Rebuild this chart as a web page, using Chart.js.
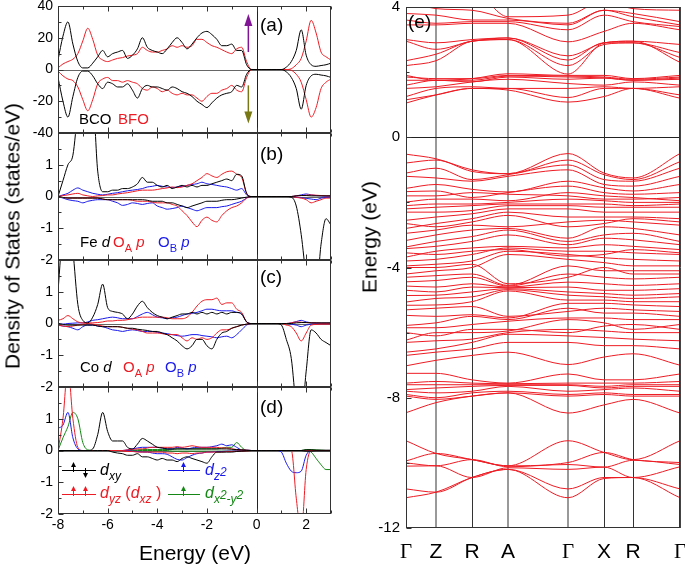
<!DOCTYPE html>
<html>
<head>
<meta charset="utf-8">
<script src="https://cdn.jsdelivr.net/npm/chart.js@4.4.1/dist/chart.umd.min.js"></script>
<style>
  body { margin: 0; background: #fff; }
  #wrap { position: relative; width: 685px; height: 565px; overflow: hidden; background: #fff;
          font-family: "Liberation Sans", Arial, sans-serif; }
  #wrap canvas { position: absolute; left: 0; top: 0; }
  .ttl { position: absolute; color: #000; white-space: nowrap; font-size: 21px; line-height: 1; }
  .rot { transform: translate(-50%, -50%) rotate(-90deg); }
</style>
</head>
<body>
<div id="wrap">
  <canvas id="dosA" width="685" height="565"></canvas>
  <canvas id="dosB" width="685" height="565"></canvas>
  <canvas id="dosC" width="685" height="565"></canvas>
  <canvas id="dosD" width="685" height="565"></canvas>
  <canvas id="bands" width="685" height="565"></canvas>
  <div class="ttl rot" style="left:12px;top:236px">Density of States (states/eV)</div>
  <div class="ttl" style="left:195px;top:552px;transform:translate(-50%,-50%)">Energy (eV)</div>
  <div class="ttl rot" style="left:369px;top:237px">Energy (eV)</div>
</div>
<script>
// ---- DOS data (energy grid in eV) ----
const energy = [-8.0, -7.8, -7.6, -7.4, -7.2, -7.0, -6.8, -6.6, -6.4, -6.2,
  -6.0, -5.8, -5.6, -5.4, -5.2, -5.0, -4.8, -4.6, -4.4, -4.2,
  -4.0, -3.8, -3.6, -3.4, -3.2, -3.0, -2.8, -2.6, -2.4, -2.2,
  -2.0, -1.8, -1.6, -1.4, -1.2, -1.0, -0.8, -0.6, -0.4, -0.2,
  0.0, 0.2, 0.4, 0.6, 0.8, 1.0, 1.2, 1.4, 1.6, 1.8,
  2.0, 2.2, 2.4, 2.6, 2.8, 3.0];

// (a) total DOS
const bcoUp = [6, 21, 30, 16, 5, 1, 1, 4, 8, 12,
  8, 10, 11, 12, 7, 9, 13, 20, 14, 12,
  11, 10, 13, 17, 20, 17, 13, 16, 20, 23,
  24, 22, 19, 15, 15, 16, 12, 12, 3, 0,
  0, 0, 0, 0, 0, 0, 1.5, 5, 12, 25,
  9, 3, 2, 2.5, 3, 4];
const bcoDown = [-5, -20, -30, -17, -5, -1, -1, -4, -9, -12,
  -8, -9, -11, -11, -9, -13, -18, -12, -10, -11,
  -11, -12, -13, -11, -12, -14, -15, -17, -20, -22,
  -24, -21, -18, -16, -15, -14, -10, -11, -3, 0,
  0, 0, 0, 0, 0, 0, -1.5, -5, -12, -25,
  -10, -4, -3, -3.5, -4, -5];
const bfoUp = [1, 3.5, 5, 6.5, 10, 18, 26, 19, 9, 6,
  5, 6, 7, 7.5, 8.5, 9, 10, 14, 12, 11,
  11, 12, 13, 15, 14, 15, 14, 15, 19, 19,
  17, 15, 14, 12.5, 11, 10, 13, 14, 5, 0,
  0, 0, 0, 0, 0, 0, 0, 0.5, 3, 7,
  18, 31, 23, 11, 8, 6];
const bfoDown = [-1, -4, -6, -7, -11, -19, -26, -19, -9, -6,
  -5, -7, -7, -8, -7, -8, -9, -12, -13, -11,
  -12, -14, -13, -15, -16, -15, -16, -16, -18, -20,
  -17, -15, -15, -13, -12, -10, -13, -14, -5, 0,
  0, 0, 0, 0, 0, 0, 0, -0.5, -3, -8,
  -19, -30, -24, -12, -8, -6];

// (b) Fe d, O_A p, O_B p
const feUp = [0, 0.5, 1.0, 1.3, 2.6, 3, 3, 3, 0.8, 0.15,
  0.15, 0.2, 0.2, 0.25, 0.25, 0.3, 0.4, 0.6, 0.45, 0.45,
  0.35, 0.3, 0.35, 0.25, 0.3, 0.35, 0.3, 0.35, 0.3, 0.35,
  0.35, 0.4, 0.45, 0.5, 0.55, 0.5, 0.7, 0.65, 0.1, 0,
  0, 0, 0, 0, 0, 0, 0, 0, 0.02, 0.03,
  0.03, 0.02, 0.02, 0.02, 0.02, 0.02];
const feDown = [0, -0.03, -0.05, -0.05, -0.05, -0.05, -0.05, -0.05, -0.05, -0.08,
  -0.1, -0.1, -0.1, -0.1, -0.1, -0.1, -0.1, -0.1, -0.12, -0.15,
  -0.15, -0.15, -0.2, -0.2, -0.25, -0.3, -0.35, -0.3, -0.25, -0.2,
  -0.15, -0.15, -0.15, -0.12, -0.1, -0.1, -0.08, -0.05, -0.02, 0,
  0, 0, 0, 0, 0, 0, 0, -0.02, -0.3, -1.2,
  -2.5, -3, -3, -1.5, -0.7, -0.9];
const oaUpB = [0, 0.03, 0.05, 0.08, 0.1, 0.05, 0.02, 0, 0.02, 0.03,
  0.05, 0.05, 0.08, 0.1, 0.12, 0.15, 0.18, 0.2, 0.2, 0.2,
  0.22, 0.25, 0.27, 0.3, 0.28, 0.3, 0.35, 0.4, 0.5, 0.6,
  0.72, 0.65, 0.6, 0.7, 0.78, 0.8, 0.7, 0.6, 0.1, 0,
  0, 0, 0, 0, 0, 0, 0, 0, 0.02, 0.03,
  0.04, 0.05, 0.04, 0.03, 0.02, 0.02];
const oaDownB = [0, -0.03, -0.05, -0.05, -0.05, -0.05, -0.05, -0.05, -0.05, -0.08,
  -0.1, -0.1, -0.1, -0.1, -0.1, -0.12, -0.15, -0.15, -0.15, -0.18,
  -0.2, -0.2, -0.2, -0.25, -0.3, -0.45, -0.6, -0.8, -0.95, -0.75,
  -0.65, -0.75, -0.8, -0.6, -0.45, -0.35, -0.3, -0.2, -0.05, 0,
  0, 0, 0, 0, 0, 0, 0, 0, -0.03, -0.05,
  -0.1, -0.2, -0.15, -0.1, -0.05, -0.05];
const obUpB = [0, 0.05, 0.1, 0.2, 0.27, 0.2, 0.15, 0.1, 0.07, 0.05,
  0.07, 0.1, 0.12, 0.15, 0.18, 0.2, 0.22, 0.25, 0.3, 0.32,
  0.35, 0.32, 0.3, 0.28, 0.3, 0.32, 0.35, 0.38, 0.4, 0.45,
  0.4, 0.38, 0.35, 0.32, 0.3, 0.25, 0.2, 0.25, 0.05, 0,
  0, 0, 0, 0, 0, 0, 0, 0, 0.02, 0.05,
  0.08, 0.05, 0.03, 0.02, 0.01, 0.01];
const obDownB = [0, -0.05, -0.1, -0.13, -0.15, -0.2, -0.15, -0.12, -0.1, -0.1,
  -0.1, -0.15, -0.2, -0.28, -0.25, -0.2, -0.22, -0.25, -0.22, -0.2,
  -0.3, -0.35, -0.4, -0.38, -0.35, -0.3, -0.35, -0.4, -0.45, -0.4,
  -0.35, -0.35, -0.35, -0.32, -0.3, -0.25, -0.2, -0.15, -0.05, 0,
  0, 0, 0, 0, 0, 0, 0, 0, -0.02, -0.04,
  -0.06, -0.08, -0.1, -0.05, -0.03, -0.02];

// (c) Co d, O_A p, O_B p
const coUp = [1.0, 3, 3.5, 2.3, 0.6, 0.1, 0.02, 0.2, 0.6, 1.24,
  0.5, 0.38, 0.35, 0.3, 0.15, 0.3, 0.55, 0.7, 0.5, 0.35,
  0.25, 0.2, 0.15, 0.2, 0.25, 0.3, 0.3, 0.35, 0.3, 0.35,
  0.3, 0.35, 0.3, 0.35, 0.3, 0.35, 0.35, 0.3, 0.05, 0,
  0, 0, 0, 0, 0, 0, 0, 0, 0.02, 0.03,
  0.03, 0.02, 0.02, 0.02, 0.02, 0.02];
const coDown = [0, -0.03, -0.05, -0.05, -0.05, -0.05, -0.05, -0.05, -0.08, -0.1,
  -0.1, -0.1, -0.1, -0.12, -0.15, -0.15, -0.18, -0.2, -0.22, -0.25,
  -0.25, -0.3, -0.35, -0.45, -0.55, -0.7, -0.8, -0.7, -0.5, -0.5,
  -0.7, -0.8, -0.5, -0.3, -0.25, -0.15, -0.1, -0.05, -0.02, 0,
  0, 0, 0, 0, 0, -0.05, -0.5, -1.1, -2.6, -3,
  -1.5, -0.2, -0.3, -0.5, -0.6, -0.7];
const oaUpC = [0.1, 0.15, 0.25, 0.15, 0.05, 0.02, 0.02, 0.02, 0.03, 0.05,
  0.08, 0.08, 0.1, 0.1, 0.12, 0.15, 0.18, 0.2, 0.2, 0.2,
  0.2, 0.2, 0.18, 0.15, 0.15, 0.15, 0.2, 0.35, 0.55, 0.7,
  0.75, 0.75, 0.8, 0.6, 0.65, 0.65, 0.45, 0.35, 0.05, 0,
  0, 0, 0, 0, 0, 0, 0, 0.02, 0.05, 0.04,
  0.03, 0.02, 0.02, 0.01, 0.01, 0.01];
const oaDownC = [-0.05, -0.08, -0.1, -0.08, -0.05, -0.02, 0, -0.02, -0.05, -0.08,
  -0.1, -0.1, -0.1, -0.12, -0.15, -0.18, -0.2, -0.25, -0.3, -0.3,
  -0.3, -0.32, -0.35, -0.35, -0.35, -0.45, -0.55, -0.45, -0.5, -0.45,
  -0.5, -0.45, -0.3, -0.2, -0.2, -0.15, -0.1, -0.05, -0.02, 0,
  0, 0, 0, 0, 0, 0, -0.05, -0.1, -0.3, -0.55,
  -0.3, -0.05, -0.03, -0.02, -0.02, -0.02];
const obUpC = [0, -0.02, 0, 0.01, 0.02, 0.02, 0.05, 0.1, 0.12, 0.15,
  0.18, 0.2, 0.18, 0.15, 0.15, 0.15, 0.22, 0.3, 0.35, 0.28,
  0.2, 0.18, 0.15, 0.18, 0.2, 0.25, 0.3, 0.32, 0.35, 0.4,
  0.45, 0.45, 0.42, 0.4, 0.4, 0.4, 0.35, 0.3, 0.05, 0,
  0, 0, 0, 0, 0, 0, 0, 0.02, 0.06, 0.1,
  0.05, 0.02, 0.01, 0.01, 0.01, 0.01];
const obDownC = [-0.05, -0.08, -0.1, -0.15, -0.2, -0.1, -0.05, -0.05, -0.08, -0.1,
  -0.15, -0.2, -0.22, -0.25, -0.22, -0.2, -0.22, -0.25, -0.25, -0.25,
  -0.28, -0.3, -0.32, -0.35, -0.38, -0.4, -0.38, -0.35, -0.35, -0.38,
  -0.4, -0.42, -0.45, -0.42, -0.4, -0.45, -0.35, -0.2, -0.05, 0,
  0, 0, 0, 0, 0, 0, 0, -0.02, -0.05, -0.1,
  -0.05, -0.02, -0.01, -0.01, -0.01, -0.01];

// (d) Co d orbitals
const dxyUp = [0, 0, 0, 0, 0, 0, 0, 0.05, 0.5, 1.2,
  0.6, 0.3, 0.3, 0.3, 0.1, 0.05, 0.2, 0.38, 0.3, 0.2,
  0.1, 0.08, 0.05, 0.05, 0.05, 0.05, 0.05, 0.05, 0.05, 0.05,
  0.05, 0.05, 0.05, 0.05, 0.05, 0.04, 0.03, 0.02, 0.01, 0,
  0, 0, 0, 0, 0, 0, 0, 0, 0, 0,
  0.02, 0.02, 0.01, 0.01, 0.01, 0.01];
const dxyDown = [0, 0, 0, 0, 0, 0, 0, 0, 0, 0,
  0, -0.05, -0.08, -0.1, -0.15, -0.15, -0.1, -0.2, -0.2, -0.25,
  -0.3, -0.25, -0.3, -0.3, -0.35, -0.25, -0.2, -0.25, -0.3, -0.35,
  -0.4, -0.2, -0.05, -0.05, -0.05, -0.05, -0.03, -0.02, -0.01, 0,
  0, 0, 0, 0, 0, 0, 0, 0, 0, 0,
  -0.02, -0.02, -0.01, -0.01, -0.01, -0.01];
const dyzUp = [0, 1.0, 2.6, 1.0, 0.1, 0, 0, 0, 0, 0,
  0, 0, 0, 0, 0.02, 0.03, 0.05, 0.05, 0.08, 0.1,
  0.1, 0.1, 0.1, 0.1, 0.12, 0.1, 0.12, 0.15, 0.12, 0.1,
  0.1, 0.1, 0.1, 0.08, 0.08, 0.05, 0.03, 0.02, 0.01, 0,
  0, 0, 0, 0, 0, 0, 0, 0, 0, 0,
  0, 0, 0, 0, 0, 0];
const dyzDown = [0, 0, 0, 0, 0, 0, 0, 0, 0, 0,
  0, 0, 0, -0.02, -0.03, -0.03, -0.05, -0.05, -0.05, -0.05,
  -0.05, -0.05, -0.08, -0.08, -0.1, -0.08, -0.08, -0.1, -0.08, -0.08,
  -0.05, -0.05, -0.05, -0.05, -0.03, -0.03, -0.02, -0.02, -0.01, 0,
  0, 0, 0, 0, 0, 0, 0, 0, -1.5, -2.6,
  -0.6, 0, 0, 0, 0, 0];
const dz2Up = [0.7, 0.8, 1.2, 0.4, 0.05, 0, 0, 0, 0, 0,
  0, 0, 0, 0, 0.02, 0.05, 0.08, 0.1, 0.1, 0.1,
  0.1, 0.08, 0.05, 0.05, 0.1, 0.08, 0.05, 0.08, 0.1, 0.1,
  0.1, 0.12, 0.15, 0.2, 0.15, 0.18, 0.1, 0.02, 0.01, 0,
  0, 0, 0, 0, 0, 0, 0, 0, 0, 0,
  0, 0, 0, 0, 0, 0];
const dz2Down = [0, 0, 0, 0, 0, 0, 0, 0, 0, 0,
  0, 0, 0, 0, 0, -0.02, -0.03, -0.05, -0.05, -0.08,
  -0.1, -0.1, -0.12, -0.2, -0.28, -0.3, -0.22, -0.15, -0.1, -0.08,
  -0.05, -0.05, -0.03, -0.03, -0.02, -0.02, -0.01, -0.01, 0, 0,
  0, 0, 0, 0, 0, -0.05, -0.4, -0.65, -0.7, -0.65,
  -0.15, 0, 0, 0, 0, 0];
const dx2Up = [0, 0.4, 0.75, 1.2, 1.0, 0.25, 0.02, 0, 0, 0,
  0, 0, 0, 0, 0, 0, 0.02, 0.03, 0.03, 0.03,
  0.03, 0.03, 0.03, 0.03, 0.05, 0.05, 0.05, 0.05, 0.05, 0.05,
  0.05, 0.05, 0.05, 0.08, 0.1, 0.1, 0.25, 0.1, 0, 0,
  0, 0, 0, 0, 0, 0, 0, 0, 0, 0,
  0.03, 0.03, 0.02, 0.01, 0, 0];
const dx2Down = [0, 0, 0, 0, 0, 0, 0, 0, 0, 0,
  0, 0, 0, 0, 0, 0, 0, 0, 0, 0,
  0, 0, 0, -0.02, -0.02, -0.02, -0.02, -0.02, -0.02, -0.02,
  -0.02, -0.02, -0.02, -0.02, -0.02, -0.02, -0.01, -0.01, 0, 0,
  0, 0, 0, 0, 0, 0, 0, 0, 0, 0,
  0, -0.05, -0.25, -0.45, -0.6, -0.6];

const dosXTicks = [-8, -6, -4, -2, 0, 2];

// ---- band structure (energies in eV at each high-symmetry point) ----
const kPos = [0, 30, 66, 102, 162, 198, 227, 274];
const kLabels = ['Γ', 'Z', 'R', 'A', 'Γ', 'X', 'R', 'Γ'];

const conductionBands = [
  [1.05, 1.3, 1.5, 1.45, 1.08, 1.25, 1.5, 1.2],
  [1.15, 1.3, 1.5, 1.5, 1.22, 1.5, 1.5, 1.3],
  [1.25, 1.5, 1.55, 1.5, 1.5, 1.55, 1.5, 1.55],
  [1.5, 1.55, 1.7, 1.78, 1.65, 1.6, 1.7, 1.6],
  [1.6, 1.75, 1.7, 1.85, 1.78, 1.82, 1.75, 1.78],
  [1.75, 1.75, 1.75, 1.88, 1.85, 1.82, 1.75, 1.82],
  [1.85, 1.8, 1.8, 1.9, 1.88, 1.85, 1.78, 1.85],
  [1.9, 1.75, 1.8, 1.95, 1.9, 1.9, 1.8, 1.9],
  [2.2, 2.35, 2.95, 3.0, 1.94, 2.9, 2.95, 2.3],
  [2.35, 2.55, 2.95, 3.0, 2.2, 2.85, 2.9, 2.45],
  [2.95, 2.7, 2.95, 3.05, 2.37, 2.9, 2.9, 2.6],
  [3.0, 2.9, 3.0, 3.05, 2.5, 2.9, 2.95, 2.85],
  [3.45, 3.45, 3.5, 3.5, 2.93, 3.25, 3.5, 3.3],
  [3.6, 3.5, 3.55, 3.55, 3.3, 3.75, 3.55, 3.4],
  [3.8, 3.75, 3.6, 3.6, 3.45, 3.9, 3.7, 3.45],
  [4.2, 3.95, 3.9, 3.65, 3.5, 3.9, 3.8, 3.55],
  [4.4, 4.3, 4.5, 3.7, 3.75, 4.2, 3.95, 3.9]
];
const valenceBands = [
  [-0.52, -0.66, -1.0, -1.12, -0.5, -1.1, -1.25, -0.5],
  [-0.79, -0.7, -1.05, -1.12, -0.7, -1.15, -1.3, -0.75],
  [-1.1, -0.95, -1.3, -1.15, -0.85, -1.3, -1.35, -0.95],
  [-1.2, -1.25, -1.35, -1.2, -1.0, -1.45, -1.5, -1.2],
  [-1.57, -1.45, -1.6, -1.68, -1.35, -1.55, -1.65, -1.45],
  [-1.67, -1.65, -1.85, -1.7, -1.5, -1.7, -1.75, -1.7],
  [-1.8, -1.8, -1.7, -1.75, -1.8, -1.9, -1.9, -1.85],
  [-1.99, -1.9, -1.9, -1.95, -1.7, -1.8, -1.85, -1.95],
  [-2.1, -2.05, -2.05, -2.0, -1.9, -1.95, -2.0, -2.0],
  [-2.2, -2.15, -2.1, -2.05, -2.05, -2.05, -2.1, -2.05],
  [-2.3, -2.3, -2.25, -2.1, -2.1, -2.15, -2.15, -2.15],
  [-2.55, -2.45, -2.35, -2.2, -2.2, -2.3, -2.3, -2.3],
  [-2.65, -2.75, -2.6, -2.4, -2.75, -2.65, -2.5, -2.6],
  [-2.8, -2.65, -2.5, -2.3, -2.45, -2.45, -2.45, -2.5],
  [-2.95, -2.85, -2.7, -2.75, -2.6, -2.55, -2.6, -2.7],
  [-3.17, -3.0, -2.85, -2.8, -3.1, -2.75, -2.8, -3.0],
  [-3.37, -3.2, -3.05, -2.85, -3.2, -3.0, -2.95, -3.2],
  [-3.42, -3.35, -3.2, -3.0, -3.3, -3.1, -3.15, -3.3],
  [-3.55, -3.6, -3.5, -3.45, -3.65, -3.6, -3.45, -3.55],
  [-3.68, -3.5, -3.4, -3.35, -3.4, -3.3, -3.35, -3.45],
  [-3.8, -3.75, -3.6, -3.4, -3.5, -3.5, -3.55, -3.6],
  [-3.95, -3.9, -3.8, -3.5, -3.6, -3.7, -3.75, -3.8],
  [-4.0, -4.0, -3.9, -4.5, -4.3, -4.0, -4.2, -4.2],
  [-4.2, -4.1, -4.0, -3.6, -3.75, -3.85, -3.95, -3.95],
  [-4.3, -4.25, -4.2, -4.55, -3.95, -4.1, -4.1, -4.1],
  [-4.44, -4.4, -4.3, -4.57, -4.2, -4.3, -4.35, -4.3],
  [-4.57, -4.6, -4.5, -4.6, -4.45, -4.5, -4.55, -4.5],
  [-4.7, -4.75, -4.6, -4.62, -4.6, -4.7, -4.7, -4.65],
  [-4.86, -4.85, -4.75, -4.65, -4.75, -4.8, -4.85, -4.8],
  [-5.06, -4.95, -4.9, -4.68, -4.85, -4.9, -4.95, -4.9],
  [-5.16, -5.15, -5.05, -4.72, -5.0, -5.0, -5.05, -5.05],
  [-5.3, -5.25, -5.2, -5.5, -5.35, -5.25, -5.3, -5.35],
  [-5.47, -5.5, -5.45, -5.55, -5.1, -5.1, -5.15, -5.2],
  [-5.78, -5.7, -5.5, -5.6, -5.25, -5.4, -5.4, -5.5],
  [-5.85, -5.85, -5.75, -5.65, -5.55, -5.55, -5.6, -5.6],
  [-6.0, -6.1, -5.9, -5.9, -6.0, -5.8, -5.75, -5.9],
  [-6.23, -6.0, -6.0, -5.95, -5.6, -5.7, -5.9, -5.75],
  [-6.3, -6.25, -6.2, -6.0, -5.9, -5.95, -6.0, -6.0],
  [-6.6, -6.5, -6.3, -6.05, -6.1, -6.15, -6.2, -6.25],
  [-6.7, -6.6, -6.5, -6.3, -6.3, -6.4, -6.4, -6.5]
];
const semicoreBands = [
  [-7.02, -6.85, -6.7, -6.6, -6.98, -6.75, -6.65, -7.0],
  [-7.25, -7.25, -7.45, -7.55, -7.27, -7.45, -7.45, -7.27],
  [-7.55, -7.5, -7.55, -7.57, -7.55, -7.55, -7.55, -7.5],
  [-7.6, -7.6, -7.6, -7.6, -7.6, -7.65, -7.6, -7.6],
  [-7.75, -7.7, -7.65, -7.62, -7.62, -7.7, -7.65, -7.65],
  [-7.8, -7.85, -7.8, -7.65, -7.8, -7.75, -7.7, -7.8],
  [-7.9, -8.0, -7.85, -7.8, -7.9, -7.85, -7.9, -7.9],
  [-7.95, -8.05, -7.95, -7.85, -7.95, -7.9, -7.95, -7.95],
  [-8.46, -8.15, -7.95, -7.85, -8.47, -8.22, -8.05, -8.47]
];
const lowBands = [
  [-9.32, -9.71, -9.9, -10.09, -9.32, -9.68, -9.9, -9.32],
  [-9.94, -9.71, -9.9, -10.09, -9.99, -9.68, -9.9, -9.99],
  [-10.0, -10.09, -9.9, -10.12, -10.05, -10.13, -9.92, -10.05],
  [-10.1, -10.09, -10.45, -10.15, -10.2, -10.13, -10.45, -10.12],
  [-10.8, -10.9, -10.45, -10.2, -10.8, -10.45, -10.45, -10.8],
  [-11.07, -10.9, -10.45, -10.2, -11.07, -10.48, -10.45, -11.07]
];

// ---- styling ----
const FONT = '"Liberation Sans", Arial, sans-serif';
const SERIF = '"Liberation Serif", "Times New Roman", serif';
const RED = 'rgb(237,28,36)';
const BLUE = 'rgb(25,25,235)';
const GREEN = 'rgb(20,135,20)';
const BLACK = '#000';
const kLineColors = ['#444', '#999', '#333', '#999', '#999', '#333', '#333', '#444'];
const kLineWidths = [1, 2, 1, 2, 2, 1, 1, 1];

function pts(xs, ys) {
  return xs.map((x, i) => ({ x, y: ys[i] }));
}

function curve(ys, color, xs) {
  return {
    data: pts(xs || energy, ys),
    borderColor: color,
    borderWidth: 1,
    pointRadius: 0,
    fill: false,
    cubicInterpolationMode: 'monotone'
  };
}

function drawRuns(ctx, x, y, size, runs) {
  ctx.textAlign = 'left';
  ctx.textBaseline = 'alphabetic';
  for (const r of runs) {
    const small = r.sub || r.sup;
    const fs = Math.round(size * (small ? 0.72 : 1));
    const dy = (r.sub ? size * 0.3 : 0) + (r.dy || 0);
    ctx.font = (r.i ? 'italic ' : '') + fs + 'px ' + FONT;
    ctx.fillStyle = r.c || BLACK;
    ctx.fillText(r.t, x, y + dy);
    x += ctx.measureText(r.t).width;
  }
}

function smallArrow(ctx, x, y, up, color) {
  ctx.strokeStyle = color;
  ctx.fillStyle = color;
  ctx.lineWidth = 1;
  const d = up ? -1 : 1;
  ctx.beginPath();
  ctx.moveTo(x, y - d * 2);
  ctx.lineTo(x, y + d * 4);
  ctx.stroke();
  ctx.beginPath();
  ctx.moveTo(x, y + d * 8);
  ctx.lineTo(x - 2.5, y + d * 3);
  ctx.lineTo(x + 2.5, y + d * 3);
  ctx.closePath();
  ctx.fill();
}

// frame, inward ticks, zero lines and annotations
function makeDecor(cfg) {
  return {
    id: 'decor',
    beforeDatasetsDraw(chart) {
      const { ctx, chartArea: a, scales: { x, y } } = chart;
      ctx.save();
      ctx.lineWidth = 1;
      if (cfg.zeroY) {
        const py = Math.round(y.getPixelForValue(0)) + 0.5;
        ctx.strokeStyle = cfg.zeroY;
        ctx.beginPath(); ctx.moveTo(a.left, py); ctx.lineTo(a.right, py); ctx.stroke();
      }
      if (cfg.zeroX) {
        const px = Math.round(x.getPixelForValue(0)) + 0.5;
        ctx.strokeStyle = cfg.zeroX;
        ctx.beginPath(); ctx.moveTo(px, a.top); ctx.lineTo(px, a.bottom); ctx.stroke();
      }
      ctx.restore();
    },
    afterDatasetsDraw(chart) {
      const { ctx, chartArea: a, scales: { x, y } } = chart;
      ctx.save();
      ctx.strokeStyle = '#333';
      ctx.lineWidth = 1;
      const L = Math.round(a.left) + 0.5, R = Math.round(a.right) - 0.5;
      const T = Math.round(a.top) + 0.5, B = Math.round(a.bottom) - 0.5;
      ctx.strokeRect(L, T, R - L, B - T);
      ctx.beginPath();
      if (cfg.xStep) {
        for (let v = x.min; v <= x.max + 1e-9; v += cfg.xStep) {
          const px = Math.round(x.getPixelForValue(v)) + 0.5;
          const len = Math.abs(v % cfg.xMajor) < 1e-9 ? 5 : 3;
          ctx.moveTo(px, T); ctx.lineTo(px, T + len);
          ctx.moveTo(px, B); ctx.lineTo(px, B - len);
        }
      }
      if (cfg.yStep) {
        for (let v = y.min; v <= y.max + 1e-9; v += cfg.yStep) {
          const py = Math.round(y.getPixelForValue(v)) + 0.5;
          const len = Math.abs(v % cfg.yMajor) < 1e-9 ? 5 : 3;
          ctx.moveTo(L, py); ctx.lineTo(L + len, py);
        }
      }
      ctx.stroke();

      for (const ar of cfg.arrows || []) {
        const px = x.getPixelForValue(ar.x);
        const p0 = y.getPixelForValue(ar.from);
        const p1 = y.getPixelForValue(ar.to);
        const d = Math.sign(p1 - p0);
        ctx.strokeStyle = ar.color;
        ctx.fillStyle = ar.color;
        ctx.lineWidth = 1.5;
        ctx.beginPath(); ctx.moveTo(px, p0); ctx.lineTo(px, p1 - d * 10); ctx.stroke();
        ctx.beginPath();
        ctx.moveTo(px, p1);
        ctx.lineTo(px - 4, p1 - d * 12);
        ctx.lineTo(px + 4, p1 - d * 12);
        ctx.closePath();
        ctx.fill();
      }

      for (const m of cfg.marks || []) {
        ctx.strokeStyle = m.color;
        ctx.lineWidth = 1;
        ctx.beginPath(); ctx.moveTo(m.x0, m.y + 0.5); ctx.lineTo(m.x1, m.y + 0.5); ctx.stroke();
        for (const s of m.arrows) smallArrow(ctx, s.x + 0.5, m.y, s.up, m.color);
      }

      for (const t of cfg.texts || []) drawRuns(ctx, t.x, t.y, t.size, t.runs);
      ctx.restore();
    }
  };
}

function yAxis(min, max, step, hideTop) {
  return {
    type: 'linear', min, max,
    grid: { display: false, drawTicks: false },
    border: { display: false },
    ticks: {
      stepSize: step, color: BLACK, padding: 5,
      font: { family: FONT, size: 14 },
      callback: (v) => (hideTop && v === max ? '' : v)
    },
    afterFit(s) { s.width = 50; s.paddingTop = 0; s.paddingBottom = 0; }
  };
}

function dosChart(id, datasets, yCfg, top, bottom, showX, decor) {
  const xAxisH = showX ? 40 : 0;
  return new Chart(document.getElementById(id), {
    type: 'line',
    data: { datasets },
    options: {
      responsive: false, animation: false, devicePixelRatio: 1, events: [],
      layout: { padding: { left: 8, right: 354, top, bottom: 565 - bottom - xAxisH } },
      plugins: { legend: { display: false }, tooltip: { enabled: false } },
      scales: {
        x: {
          type: 'linear', min: -8, max: 3, display: showX,
          grid: { display: false, drawTicks: false },
          border: { display: false },
          ticks: { color: BLACK, padding: 3, font: { family: FONT, size: 14 }, maxRotation: 0 },
          afterBuildTicks(s) { s.ticks = dosXTicks.map((v) => ({ value: v })); },
          afterFit(s) { s.height = xAxisH; s.paddingLeft = 0; s.paddingRight = 0; }
        },
        y: yCfg
      }
    },
    plugins: [makeDecor(decor)]
  });
}

const label = (t, y) => ({ x: 260, y, size: 19, runs: [{ t }] });

// (a) total DOS
dosChart('dosA', [
  curve(bcoUp, BLACK), curve(bcoDown, BLACK),
  curve(bfoUp, RED), curve(bfoDown, RED)
], yAxis(-40, 40, 20, false), 6, 133, false, {
  zeroY: '#666', zeroX: '#222', xStep: 1, xMajor: 2, yStep: 10, yMajor: 20,
  arrows: [
    { x: -0.33, from: 11, to: 35, color: 'rgb(130,20,150)' },
    { x: -0.33, from: -10, to: -34, color: 'rgb(120,120,20)' }
  ],
  texts: [
    label('(a)', 31),
    { x: 79, y: 124, size: 15, runs: [{ t: 'BCO', c: BLACK }] },
    { x: 118, y: 124, size: 15, runs: [{ t: 'BFO', c: RED }] }
  ]
});

// (b) BFO partial DOS
dosChart('dosB', [
  curve(feUp, BLACK), curve(feDown, BLACK),
  curve(oaUpB, RED), curve(oaDownB, RED),
  curve(obUpB, BLUE), curve(obDownB, BLUE)
], yAxis(-2, 2, 1, true), 133, 260, false, {
  zeroY: '#666', zeroX: '#222', xStep: 1, xMajor: 2, yStep: 0.5, yMajor: 1,
  texts: [
    label('(b)', 160),
    { x: 80, y: 247, size: 15, runs: [{ t: 'Fe ' }, { t: 'd', i: 1 }] },
    { x: 113, y: 247, size: 15, runs: [{ t: 'O', c: RED }, { t: 'A', c: RED, sub: 1 }, { t: ' p', c: RED, i: 1 }] },
    { x: 158, y: 247, size: 15, runs: [{ t: 'O', c: BLUE }, { t: 'B', c: BLUE, sub: 1 }, { t: ' p', c: BLUE, i: 1 }] }
  ]
});

// (c) BCO partial DOS
dosChart('dosC', [
  curve(coUp, BLACK), curve(coDown, BLACK),
  curve(oaUpC, RED), curve(oaDownC, RED),
  curve(obUpC, BLUE), curve(obDownC, BLUE)
], yAxis(-2, 2, 1, true), 260, 387, false, {
  zeroY: '#666', zeroX: '#222', xStep: 1, xMajor: 2, yStep: 0.5, yMajor: 1,
  texts: [
    label('(c)', 283),
    { x: 80, y: 372, size: 15, runs: [{ t: 'Co ' }, { t: 'd', i: 1 }] },
    { x: 123, y: 372, size: 15, runs: [{ t: 'O', c: RED }, { t: 'A', c: RED, sub: 1 }, { t: ' p', c: RED, i: 1 }] },
    { x: 165, y: 372, size: 15, runs: [{ t: 'O', c: BLUE }, { t: 'B', c: BLUE, sub: 1 }, { t: ' p', c: BLUE, i: 1 }] }
  ]
});

// (d) Co d orbitals
dosChart('dosD', [
  curve(dxyUp, BLACK), curve(dxyDown, BLACK),
  curve(dyzUp, RED), curve(dyzDown, RED),
  curve(dz2Up, BLUE), curve(dz2Down, BLUE),
  curve(dx2Up, GREEN), curve(dx2Down, GREEN)
], yAxis(-2, 2, 1, true), 387, 514, true, {
  zeroY: '#666', zeroX: '#222', xStep: 1, xMajor: 2, yStep: 0.5, yMajor: 1,
  marks: [
    { x0: 62, x1: 96, y: 470, color: BLACK, arrows: [{ x: 73, up: true }, { x: 85, up: false }] },
    { x0: 62, x1: 96, y: 494, color: RED, arrows: [{ x: 73, up: true }, { x: 85, up: true }] },
    { x0: 168, x1: 200, y: 470, color: BLUE, arrows: [{ x: 183, up: true }] },
    { x0: 168, x1: 200, y: 494, color: GREEN, arrows: [{ x: 183, up: true }] }
  ],
  texts: [
    label('(d)', 413),
    { x: 100, y: 475, size: 16, runs: [{ t: 'd', i: 1 }, { t: 'xy', i: 1, sub: 1 }] },
    { x: 100, y: 498, size: 16, runs: [
      { t: 'd', i: 1, c: RED }, { t: 'yz', i: 1, sub: 1, c: RED }, { t: ' (', c: RED },
      { t: 'd', i: 1, c: RED }, { t: 'xz', i: 1, sub: 1, c: RED }, { t: ' )', c: RED }] },
    { x: 205, y: 475, size: 16, runs: [
      { t: 'd', i: 1, c: BLUE }, { t: 'z', i: 1, sub: 1, c: BLUE }, { t: '2', i: 1, sub: 1, dy: -4, c: BLUE }] },
    { x: 205, y: 498, size: 16, runs: [
      { t: 'd', i: 1, c: GREEN }, { t: 'x', i: 1, sub: 1, c: GREEN }, { t: '2', i: 1, sub: 1, dy: -4, c: GREEN },
      { t: '-y', i: 1, sub: 1, c: GREEN }, { t: '2', i: 1, sub: 1, dy: -4, c: GREEN }] }
  ]
});

// (e) band structure
const bandSets = [...conductionBands, ...valenceBands, ...semicoreBands, ...lowBands]
  .map((b) => curve(b, RED, kPos));

new Chart(document.getElementById('bands'), {
  type: 'line',
  data: { datasets: bandSets },
  options: {
    responsive: false, animation: false, devicePixelRatio: 1, events: [],
    layout: { padding: { left: 366, right: 5, top: 7, bottom: 0 } },
    plugins: { legend: { display: false }, tooltip: { enabled: false } },
    scales: {
      x: {
        type: 'linear', min: 0, max: 274,
        border: { display: false },
        grid: {
          drawTicks: false,
          color: (c) => kLineColors[c.index],
          lineWidth: (c) => kLineWidths[c.index]
        },
        ticks: {
          autoSkip: false, maxRotation: 0, padding: 12, color: BLACK,
          font: (c) => ({ family: kLabels[c.index] === 'Γ' ? SERIF : FONT, size: 21 }),
          callback: (v, i) => kLabels[i]
        },
        afterBuildTicks(s) { s.ticks = kPos.map((v) => ({ value: v })); },
        afterFit(s) { s.height = 37; s.paddingLeft = 0; s.paddingRight = 0; }
      },
      y: {
        type: 'linear', min: -12, max: 4,
        grid: { display: false, drawTicks: false },
        border: { display: false },
        ticks: { stepSize: 4, color: BLACK, padding: 6, font: { family: FONT, size: 15 } },
        afterFit(s) { s.width = 40; s.paddingTop = 0; s.paddingBottom = 0; }
      }
    }
  },
  plugins: [makeDecor({
    zeroY: '#222', yStep: 2, yMajor: 4,
    texts: [{ x: 408, y: 28, size: 19, runs: [{ t: '(e)' }] }]
  })]
});
</script>
</body>
</html>
